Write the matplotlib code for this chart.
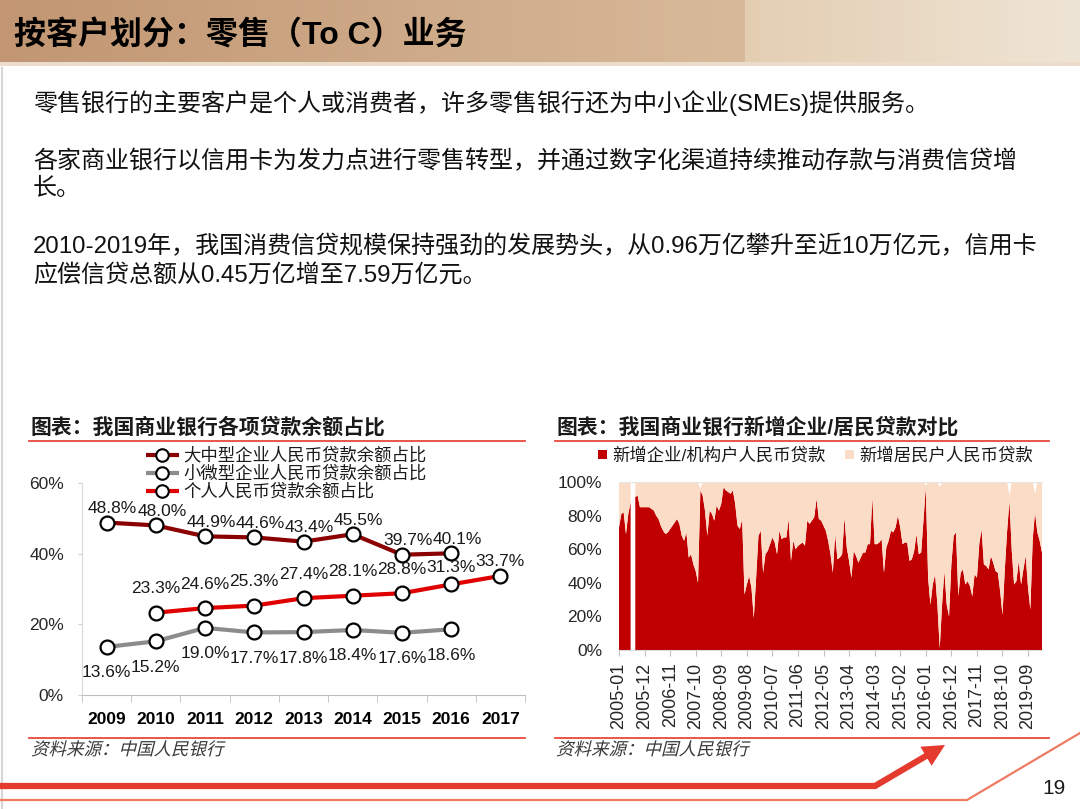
import numpy as np
import pandas as pd
import matplotlib
matplotlib.use("Agg")
import matplotlib.pyplot as plt
from matplotlib.font_manager import FontProperties
from matplotlib.patches import PathPatch, Polygon, Rectangle
from matplotlib.textpath import TextPath
from matplotlib.transforms import Affine2D
from matplotlib.ticker import PercentFormatter

plt.rcParams['font.family'] = ['Liberation Sans', 'Noto Sans CJK SC', 'DejaVu Sans']

# ---------------- data: left chart (share of loan balance, %) ----------------
years = ["2009", "2010", "2011", "2012", "2013", "2014", "2015", "2016", "2017"]
large_mid_share = [48.8, 48.0, 44.9, 44.6, 43.4, 45.5, 39.7, 40.1]     # 2009-2016
small_micro_share = [13.6, 15.2, 19.0, 17.7, 17.8, 18.4, 17.6, 18.6]   # 2009-2016
personal_share = [23.3, 24.6, 25.3, 27.4, 28.1, 28.8, 31.3, 33.7]      # 2010-2017
series_names = ["大中型企业人民币贷款余额占比", "小微型企业人民币贷款余额占比", "个人人民币贷款余额占比"]

# ---------------- data: right chart (monthly share of new loans, %) ----------------
month_start = "2005-01"
corp_new_share = [
    73, 81, 82, 69, 81, 88, np.nan, 91, 92, 85, 85, 85,   # 2005
    85, 85, 84, 83, 80, 78, 74, 71, 69, 70, 72, 74,       # 2006
    76, 78, 75, 68, 65, 70, 55, 57, 51, 47, 40, 95,       # 2007
    92, 83, 68, 83, 81, 77, 86, 83, 87, 97, 95, 94,       # 2008
    93, 95, 87, 74, 72, 78, 33, 39, 44, 37, 19, 43,       # 2009
    68, 71, 46, 57, 59, 63, 67, 64, 57, 71, 66, 67,       # 2010
    67, 78, 53, 65, 60, 62, 63, 64, 62, 77, 75, 77,       # 2011
    79, 90, 78, 77, 74, 71, 65, 57, 46, 69, 54, 55,       # 2012
    57, 79, 61, 53, 43, 59, 56, 52, 55, 58, 58, 63,       # 2013
    63, 91, 63, 63, 64, 66, 46, 61, 65, 71, 70, 73,       # 2014
    80, 73, 63, 64, 64, 53, 54, 59, 69, 57, 58, 77,       # 2015
    97, 43, 27, 39, 45, 27, 1, 27, 47, 27, 20, 51,        # 2016
    68, 70, 32, 46, 48, 39, 41, 38, 32, 45, 43, 63,       # 2017
    72, 51, 50, 48, 56, 52, 47, 46, 35, 21, 48, 71,       # 2018
    89, 59, 39, 41, 53, 39, 48, 56, 37, 24, 66, 82,       # 2019
    70, 65, 58,                                           # 2020
]
# months where corporate + household shares do not add up to 100
total_share_exceptions = {35: 96, 132: 98, 138: 97, 168: 92, 179: 93}
legend_right = ["新增企业/机构户人民币贷款", "新增居民户人民币贷款"]

W, H = 1080, 809
fig = plt.figure(figsize=(W / 100, H / 100), dpi=100)

# ---------------- page background (pixel coordinates) ----------------
bg = fig.add_axes([0, 0, 1, 1], zorder=0)
grad = np.zeros((1, W, 3))
for i in range(W):
    if i < 745:
        t = i / 745
        c = np.array([194, 150, 114]) * (1 - t) + np.array([216, 186, 154]) * t
    else:
        t = (i - 745) / (W - 745)
        c = np.array([227, 206, 178]) * (1 - t) + np.array([239, 229, 214]) * t
    grad[0, i] = c / 255
bg.imshow(grad, extent=(0, W, 63, 0), aspect='auto', interpolation='bilinear')
bg.add_patch(Rectangle((0, 62), W, 4, color='#ECDDCB', lw=0))
bg.set_xlim(0, W)
bg.set_ylim(H, 0)
bg.axis('off')

bg.plot([2, 2], [68, H], color='#D6D6D6', lw=1.5)

bg.text(14, 36, "按客户划分：零售（To C）业务", fontsize=23, fontweight='bold',
        va='center', ha='left', color='black')

body = [
    (103, "零售银行的主要客户是个人或消费者，许多零售银行还为中小企业(SMEs)提供服务。"),
    (161, "各家商业银行以信用卡为发力点进行零售转型，并通过数字化渠道持续推动存款与消费信贷增"),
    (189, "长。"),
    (247, "2010-2019年，我国消费信贷规模保持强劲的发展势头，从0.96万亿攀升至近10万亿元，信用卡"),
    (275, "应偿信贷总额从0.45万亿增至7.59万亿元。"),
]
for y, s in body:
    bg.text(33, y, s, fontsize=17.3, va='center', ha='left', color='#111111')

# chart titles and rules
red_rule = '#E8483A'
bg.text(31, 427, "图表：我国商业银行各项贷款余额占比", fontsize=15, fontweight='bold',
        va='center', color='#1a1a1a')
bg.text(557, 427, "图表：我国商业银行新增企业/居民贷款对比", fontsize=15, fontweight='bold',
        va='center', color='#1a1a1a')
for x0, x1 in [(29, 525), (555, 1049)]:
    bg.plot([x0, x1], [441, 441], color=red_rule, lw=1.3)
    bg.plot([x0, x1], [738, 738], color=red_rule, lw=1.3)


def italic_text(ax, x, y, s, size, color):
    tp = TextPath((0, 0), s, size=size, prop=FontProperties(family='Noto Sans CJK SC'))
    tr = Affine2D().skew_deg(14, 0).scale(1, -1).translate(x, y) + ax.transData
    ax.add_patch(PathPatch(tp, transform=tr, fc=color, ec='none'))


italic_text(bg, 31, 755, "资料来源：中国人民银行", 17.5, '#3a3a3a')
italic_text(bg, 556, 755, "资料来源：中国人民银行", 17.5, '#3a3a3a')

# left legend
line_colors = ['#8B0000', '#8C8C8C', '#E00000']
for k, (name, col) in enumerate(zip(series_names, line_colors)):
    yy = 455 + k * 18
    bg.plot([146, 179], [yy, yy], color=col, lw=3, solid_capstyle='butt')
    bg.plot([162], [yy], 'o', ms=9, mfc='white', mec='black', mew=1.5)
    bg.text(183, yy, name, fontsize=12.5, va='center', color='#1a1a1a')

# right legend
area_colors = ['#C00000', '#FBDCC6']
for name, col, x0 in zip(legend_right, area_colors, [598, 845]):
    bg.add_patch(Rectangle((x0, 450), 9, 9, color=col, lw=0))
    bg.text(x0 + 14, 455, name, fontsize=12.5, va='center', color='#1a1a1a')

# bottom decoration
arrow_red = '#E53A2E'
bg.plot([0, 875, 926], [786, 786, 756], color=arrow_red, lw=4.5, solid_joinstyle='miter')
bg.add_patch(Polygon([[945, 745], [931.6, 765.7], [920.4, 746.7]], closed=True,
                     color=arrow_red, lw=0))
bg.plot([0, 967, W], [800, 800, 733], color='#EF7B63', lw=1.6)
bg.text(1066, 789, "19", fontsize=15, ha='right', va='center', color='#1a1a1a')

# ---------------- left chart ----------------
axL = fig.add_axes([82 / W, 1 - 695 / H, 443 / W, 212 / H], zorder=2)
axL.patch.set_alpha(0)
xi = np.arange(len(years))
marker_kw = dict(marker='o', ms=10, mfc='white', mec='black', mew=1.6, lw=3, zorder=3)
axL.plot(xi[:len(large_mid_share)], large_mid_share, color=line_colors[0], **marker_kw)
axL.plot(xi[:len(small_micro_share)], small_micro_share, color=line_colors[1], **marker_kw)
axL.plot(xi[1:1 + len(personal_share)], personal_share, color=line_colors[2], **marker_kw)

lab_kw = dict(textcoords='offset pixels', ha='center', va='center', fontsize=12.5,
              color='#1a1a1a', zorder=4)
for i, v in enumerate(large_mid_share):
    axL.annotate(f"{v:.1f}%", (i, v), xytext=(6, 14), **lab_kw)
for i, v in enumerate(small_micro_share):
    axL.annotate(f"{v:.1f}%", (i, v), xytext=(0, -26), **lab_kw)
red_offsets = [24, 24, 24, 24, 24, 24, 17, 14]
for i, v in enumerate(personal_share):
    axL.annotate(f"{v:.1f}%", (i + 1, v), xytext=(0, red_offsets[i]), **lab_kw)

axL.set_xlim(-0.5, len(years) - 0.5)
axL.set_ylim(0, 60)
axL.set_yticks([0, 20, 40, 60])
axL.yaxis.set_major_formatter(PercentFormatter(xmax=100, decimals=0))
axL.set_xticks(xi)
axL.set_xticklabels(years, fontweight='bold')
axL.set_xticks(np.arange(-0.5, len(years), 1), minor=True)
axL.tick_params(axis='x', which='major', length=0, pad=12, labelsize=12.5, labelcolor='black')
axL.tick_params(axis='x', which='minor', length=5, color='#BFBFBF')
axL.tick_params(axis='y', length=3, color='#D0D0D0', pad=10, labelsize=12.5, labelcolor='#262626')
for s in ['top', 'right']:
    axL.spines[s].set_visible(False)
axL.spines['left'].set_color('#D9D9D9')
axL.spines['bottom'].set_color('#BFBFBF')

# ---------------- right chart ----------------
n = len(corp_new_share)
months = pd.period_range(month_start, periods=n, freq='M')
xm = np.arange(n)
corp = np.array(corp_new_share, dtype=float)
total = np.where(np.isnan(corp), np.nan, 100.0)
for k, v in total_share_exceptions.items():
    total[k] = v

axR = fig.add_axes([619 / W, 1 - 650 / H, 423 / W, 168 / H], zorder=2)
axR.patch.set_alpha(0)
axR.fill_between(xm, 0, corp, facecolor=area_colors[0], lw=0)
axR.fill_between(xm, corp, total, facecolor=area_colors[1], lw=0)
axR.set_xlim(0, n - 1)
axR.set_ylim(0, 100)
tick_idx = np.arange(0, n, 11)
axR.set_xticks(tick_idx)
axR.set_xticklabels([months[i].strftime('%Y-%m') for i in tick_idx], rotation=90)
axR.set_yticks(np.arange(0, 101, 20))
axR.yaxis.set_major_formatter(PercentFormatter(xmax=100, decimals=0))
axR.tick_params(axis='x', length=4, color='#BFBFBF', pad=5, labelsize=13, labelcolor='#262626')
axR.tick_params(axis='y', length=0, pad=12, labelsize=12.5, labelcolor='#262626')
for s in ['left', 'right']:
    axR.spines[s].set_visible(False)
axR.spines['top'].set_color('#E6E6E6')
axR.spines['top'].set_linewidth(0.8)
axR.spines['bottom'].set_color('#D9D9D9')

fig.savefig("out.png", dpi=100)
